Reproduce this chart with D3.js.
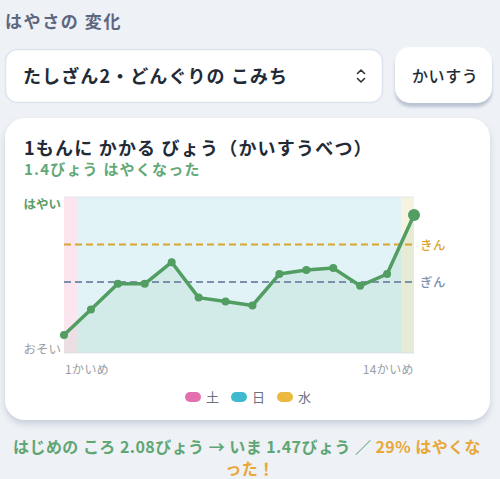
<!DOCTYPE html>
<html><head><meta charset="utf-8">
<script src="https://cdn.jsdelivr.net/npm/d3@7"></script>
<style>
html,body{margin:0;padding:0;background:#eef1f6;}
svg{display:block;font-family:"Noto Sans CJK JP","Noto Sans",sans-serif;}
</style></head><body>
<div id="chart"></div>
<script>
const attempts = ["1","2","3","4","5","6","7","8","9","10","11","12","13","14"];
const seconds = [2.08,1.95,1.82,1.82,1.71,1.89,1.91,1.93,1.77,1.75,1.74,1.83,1.77,1.47];
const weekdays = ["土","日","日","日","日","日","日","日","日","日","日","日","日","水"];
const legendDays = ["土","日","水"];
const legendColors = ["#e46fae","#3fb9cf","#ecb940"];
const bandColors = {"土":"#fbe6f0","日":"#e1f3f6","水":"#f6f3e1"};
const medals = [{name:"きん",value:1.62,color:"#d9a52e"},{name:"ぎん",value:1.81,color:"#7e8fae"}];
const xTickLabels = ["1かいめ","14かいめ"];

const W=500,H=479;
const svg=d3.select("#chart").append("svg").attr("width",W).attr("height",H);
const defs=svg.append("defs");
const f1=defs.append("filter").attr("id","cardShadow").attr("x","-10%").attr("y","-10%").attr("width","120%").attr("height","125%");
f1.append("feDropShadow").attr("dx",0).attr("dy",4).attr("stdDeviation",3).attr("flood-color","#b9c3d4").attr("flood-opacity",0.7);
const f2=defs.append("filter").attr("id","btnShadow").attr("x","-10%").attr("y","-10%").attr("width","120%").attr("height","130%");
f2.append("feDropShadow").attr("dx",0).attr("dy",4).attr("stdDeviation",1.5).attr("flood-color","#aeb8c8").attr("flood-opacity",0.8);

svg.append("rect").attr("width",W).attr("height",H).attr("fill","#eef1f6");

// header
svg.append("text").attr("x",5).attr("y",28).attr("font-size",17).attr("letter-spacing",1.6).attr("font-weight",700).attr("fill","#5d6780").text("はやさの 変化");

// select box
svg.append("rect").attr("x",5.5).attr("y",49.5).attr("width",377).attr("height",53).attr("rx",12)
  .attr("fill","#fff").attr("stroke","#dde4ee").attr("stroke-width",1.5);
svg.append("text").attr("x",23).attr("y",83).attr("font-size",18).attr("letter-spacing",1.1).attr("font-weight",700).attr("fill","#222a35").text("たしざん2・どんぐりの こみち");
svg.append("path").attr("d","M357.5,73.5 L361,70 L364.5,73.5 M357.5,78.5 L361,82 L364.5,78.5")
  .attr("fill","none").attr("stroke","#333").attr("stroke-width",1.6).attr("stroke-linecap","round").attr("stroke-linejoin","round");

// button
svg.append("rect").attr("x",395).attr("y",47).attr("width",97).attr("height",56).attr("rx",15)
  .attr("fill","#fff").attr("filter","url(#btnShadow)");
svg.append("text").attr("x",412).attr("y",82).attr("font-size",16).attr("letter-spacing",0.6).attr("font-weight",500).attr("fill","#222a35").text("かいすう");

// card
svg.append("rect").attr("x",5).attr("y",118).attr("width",485).attr("height",302).attr("rx",20)
  .attr("fill","#fff").attr("filter","url(#cardShadow)");
svg.append("text").attr("x",24).attr("y",155).attr("font-size",18).attr("letter-spacing",1.2).attr("font-weight",700).attr("fill","#222a35").text("1もんに かかる びょう（かいすうべつ）");
svg.append("text").attr("x",24).attr("y",175).attr("font-size",15).attr("letter-spacing",1.2).attr("font-weight",700).attr("fill","#62a877").text("1.4びょう はやくなった");

// plot
const pl=64,pr=414,pt=197,pb=353;
const x=d3.scalePoint().domain(attempts).range([pl,pr]);
const mn=d3.min(seconds),mx=d3.max(seconds),pad=(mx-mn)*0.15;
const y=d3.scaleLinear().domain([mx+pad,mn-pad]).range([pb,pt]);
const step=x.step();
const g=svg.append("g");
const bandX0=d=>Math.round(Math.max(pl,x(d)-step/2));
const bandX1=d=>Math.round(Math.min(pr,x(d)+step/2));
g.selectAll("rect.band").data(attempts).join("rect").attr("class","band")
  .attr("x",bandX0).attr("width",d=>bandX1(d)-bandX0(d))
  .attr("y",pt).attr("height",pb-pt).attr("shape-rendering","crispEdges")
  .attr("fill",(d,i)=>bandColors[weekdays[i]]);
g.append("line").attr("x1",pl).attr("x2",pr).attr("y1",pt).attr("y2",pt).attr("stroke","#e3e8ee").attr("stroke-width",1);
g.append("line").attr("x1",pl).attr("x2",pr).attr("y1",pb).attr("y2",pb).attr("stroke","#e3e8ee").attr("stroke-width",1);

const area=d3.area().x((d,i)=>x(attempts[i])).y0(pb).y1(d=>y(d));
g.append("path").datum(seconds).attr("d",area).attr("fill","#4f9a5f").attr("fill-opacity",0.09);

medals.forEach(m=>{
  g.append("line").attr("x1",pl).attr("x2",pr).attr("y1",y(m.value)).attr("y2",y(m.value))
    .attr("stroke",m.color).attr("stroke-width",2).attr("stroke-dasharray","7,4");
  g.append("text").attr("x",420).attr("y",y(m.value)+5).attr("font-size",12.5).attr("letter-spacing",0.5).attr("font-weight",500).attr("fill",m.color).text(m.name);
});

const line=d3.line().x((d,i)=>x(attempts[i])).y(d=>y(d));
g.append("path").datum(seconds).attr("d",line).attr("fill","none").attr("stroke","#519d62").attr("stroke-width",3.5).attr("stroke-linejoin","round");
g.selectAll("circle").data(seconds).join("circle")
  .attr("cx",(d,i)=>x(attempts[i])).attr("cy",d=>y(d))
  .attr("r",(d,i)=>i===seconds.length-1?6:4).attr("fill","#519d62");

svg.append("text").attr("x",61).attr("y",209).attr("text-anchor","end").attr("font-size",12.5).attr("font-weight",700).attr("fill","#5b9c68").text("はやい");
svg.append("text").attr("x",61).attr("y",354).attr("text-anchor","end").attr("font-size",12.5).attr("fill","#9a9ea6").text("おそい");

svg.append("text").attr("x",x(attempts[0])+1).attr("y",374).attr("font-size",12).attr("letter-spacing",0.4).attr("fill","#9a9ea6").text(xTickLabels[0]);
svg.append("text").attr("x",x(attempts[attempts.length-1])).attr("y",374).attr("text-anchor","end").attr("font-size",12).attr("letter-spacing",0.4).attr("fill","#9a9ea6").text(xTickLabels[1]);

// legend
const lg=svg.append("g");
legendDays.forEach((d,i)=>{
  const lx=185+i*46;
  lg.append("rect").attr("x",lx).attr("y",392).attr("width",16).attr("height",10).attr("rx",5).attr("fill",legendColors[i]);
  lg.append("text").attr("x",lx+21).attr("y",401.5).attr("font-size",13).attr("fill","#6b7080").text(d);
});

// footer
const ft=svg.append("text").attr("x",13).attr("y",453).attr("font-size",16).attr("font-weight",700);
ft.append("tspan").attr("fill","#5fa674").text("はじめの ころ 2.08びょう → いま 1.47びょう ／ ");
ft.append("tspan").attr("fill","#e8a737").text("29% はやくな");
const natural=ft.node().getComputedTextLength();
const nChars=ft.text().length;
const ls=Math.max(0,(468-natural)/nChars);
ft.attr("letter-spacing",ls);
svg.append("text").attr("x",250).attr("y",475).attr("text-anchor","middle").attr("font-size",16).attr("letter-spacing",ls).attr("font-weight",700).attr("fill","#e8a737").text("った！");
</script></body></html>
